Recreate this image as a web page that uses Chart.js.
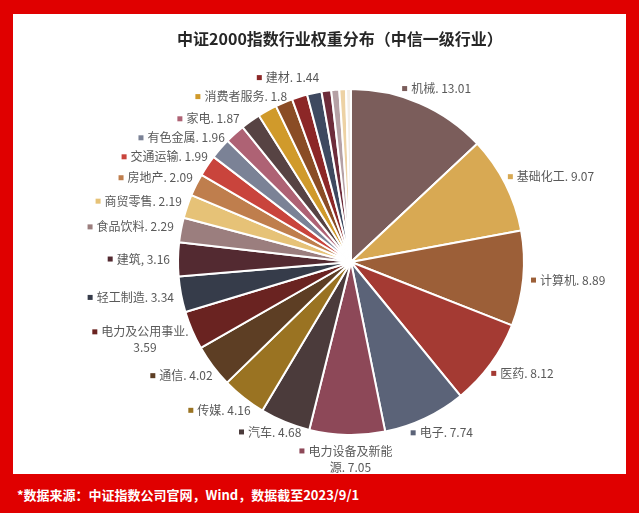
<!DOCTYPE html>
<html><head><meta charset="utf-8">
<script src="https://cdn.jsdelivr.net/npm/chart.js@4"></script>
<style>
html,body{margin:0;padding:0;width:639px;height:513px;background:#E00000;overflow:hidden;font-family:"Noto Sans CJK SC",sans-serif;}
#panel{position:absolute;left:13px;top:14px;width:613px;height:460px;background:#fff;}
#chart{position:absolute;left:0;top:0;}
#title{position:absolute;left:40px;top:27px;width:600px;text-align:center;font-weight:bold;font-size:16px;line-height:22px;color:#262626;}
#note{position:absolute;left:17px;top:485px;font-weight:bold;font-size:13px;line-height:20px;color:#fff;}
</style></head>
<body>
<div id="panel"><canvas id="chart" width="613" height="460"></canvas></div>
<div id="title">中证2000指数行业权重分布（中信一级行业）</div>
<div id="note">*数据来源：中证指数公司官网，Wind，数据截至2023/9/1</div>
<script>
const categories = ['机械','基础化工','计算机','医药','电子','电力设备及新能源','汽车','传媒','通信','电力及公用事业','轻工制造','建筑','食品饮料','商贸零售','房地产','交通运输','有色金属','家电','纺织服装','消费者服务','国防军工','建材','钢铁','石油石化','非银行金融','综合','煤炭'];
const values = [13.01,9.07,8.89,8.12,7.74,7.05,4.68,4.16,4.02,3.59,3.34,3.16,2.29,2.19,2.09,1.99,1.96,1.87,1.84,1.8,1.62,1.44,1.35,0.9,0.75,0.62,0.46];
const shownLabels = [1,1,1,1,1,1,1,1,1,1,1,1,1,1,1,1,1,1,0,1,0,1,0,0,0,0,0];
const commaLabels = ['建筑'];
const colors = ['#7B5D5B','#D8A953','#9C5F38','#A43A33','#5B6378','#8D4858','#4B3B3B','#9A7322','#5D3E24','#6A2321','#363C4A','#532A31','#9B7E7E','#E6C277','#BF7E4D','#C9443C','#7B8296','#AE6274','#574343','#D09A2B','#8A4C25','#8C2727','#3E4960','#6D2C3A','#B5A1A5','#EDD2A4','#F3EDE5'];

const FONT = '12px "Noto Sans CJK SC", sans-serif';
const LH = 16, MARK_GAP = 9, OFF = 8, MAXW = 92, GAP = 3;

function wrap(ctx, text, maxW){
  const tokens = text.match(/[A-Za-z0-9.,]+|\s|./g);
  const lines = []; let cur = '';
  for(const t of tokens){
    const test = cur + t;
    if(ctx.measureText(test).width > maxW && cur.trim() !== ''){
      lines.push(cur.replace(/\s+$/,''));
      cur = t.trim() === '' ? '' : t;
    } else cur = test;
  }
  if(cur.trim()!=='') lines.push(cur);
  return lines;
}

const labelPlugin = {
  id:'outLabels',
  afterDatasetsDraw(chart){
    const ctx = chart.ctx;
    const meta = chart.getDatasetMeta(0);
    ctx.save();
    ctx.font = FONT;
    const items = [];
    meta.data.forEach((arc,i)=>{
      if(!shownLabels[i]) return;
      const p = arc.getProps(['x','y','startAngle','endAngle','outerRadius'], true);
      const mid = (p.startAngle+p.endAngle)/2;
      const dx = Math.cos(mid), dy = Math.sin(mid);
      const text = categories[i] + (commaLabels.includes(categories[i]) ? ', ' : '. ') + values[i];
      const lines = wrap(ctx, text, MAXW);
      const tw = Math.max(...lines.map(l=>ctx.measureText(l).width));
      const w = tw + MARK_GAP, h = lines.length*LH;
      const ax = p.x + dx*(p.outerRadius+OFF), ay = p.y + dy*(p.outerRadius+OFF);
      items.push({i, lines, tw, w, h, bx: ax + dx*w/2, by: ay + dy*h/2, left: dx < 0});
    });
    // resolve overlaps on left side, pushing upward
    const L = items.filter(o=>o.left).sort((a,b)=>a.by-b.by);
    for(let j=L.length-2;j>=0;j--){
      const a=L[j], b=L[j+1];
      const xo = (a.bx - a.w/2) < (b.bx + b.w/2) && (b.bx - b.w/2) < (a.bx + a.w/2);
      const minD = a.h/2 + b.h/2 + GAP;
      if(xo && b.by - a.by < minD) a.by = b.by - minD;
    }
    const R = items.filter(o=>!o.left).sort((a,b)=>a.by-b.by);
    for(let j=1;j<R.length;j++){
      const a=R[j-1], b=R[j];
      const xo = (a.bx - a.w/2) < (b.bx + b.w/2) && (b.bx - b.w/2) < (a.bx + a.w/2);
      const minD = a.h/2 + b.h/2 + GAP;
      if(xo && b.by - a.by < minD) b.by = a.by + minD;
    }
    ctx.textBaseline = 'middle';
    ctx.textAlign = 'center';
    items.forEach(o=>{
      const x0 = o.bx - o.w/2, y0 = o.by - o.h/2;
      ctx.fillStyle = colors[o.i];
      ctx.fillRect(x0, y0 + LH/2 - 2.5, 5, 5);
      ctx.fillStyle = '#595959';
      o.lines.forEach((l,k)=>{
        ctx.fillText(l, x0 + MARK_GAP + o.tw/2, y0 + LH/2 + k*LH);
      });
    });
    ctx.restore();
  }
};

new Chart(document.getElementById('chart'), {
  type:'pie',
  data:{ labels: categories, datasets:[{ data: values, backgroundColor: colors, borderColor:'#ffffff', borderWidth:2 }] },
  options:{
    responsive:false, animation:false,
    layout:{ padding:{ left:140, right:77, top:74, bottom:38 } },
    plugins:{ legend:{display:false}, tooltip:{enabled:false}, title:{display:false} }
  },
  plugins:[labelPlugin]
});
</script>
</body></html>
